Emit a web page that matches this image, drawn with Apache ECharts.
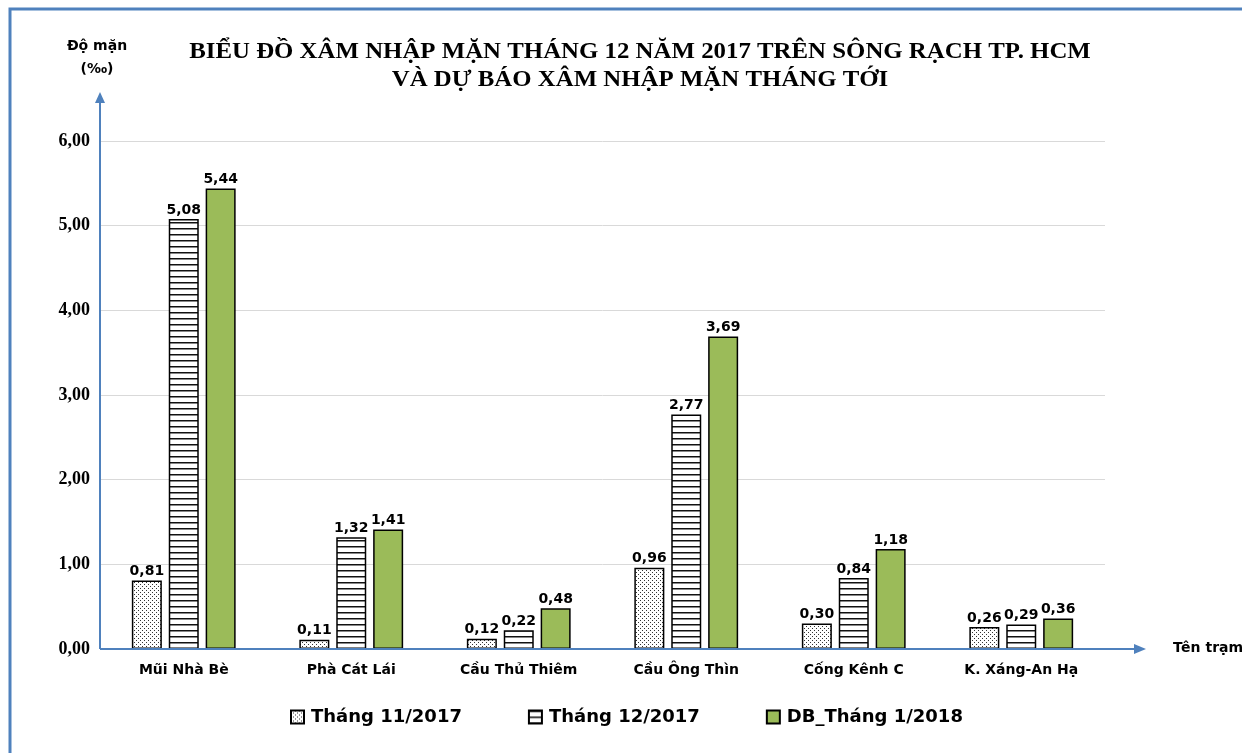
<!DOCTYPE html>
<html>
<head>
<meta charset="utf-8">
<script src="https://cdn.jsdelivr.net/npm/echarts@6/dist/echarts.min.js"></script>
<style>
  html, body { margin: 0; padding: 0; background: #fff; }
  #chart { width: 1242px; height: 753px; }
</style>
</head>
<body>
<div id="chart"></div>
<script>
// tram do man
var stations = ['Mũi Nhà Bè', 'Phà Cát Lái', 'Cầu Thủ Thiêm', 'Cầu Ông Thìn', 'Cống Kênh C', 'K. Xáng-An Hạ']
var thang11 = [0.81, 0.11, 0.12, 0.96, 0.30, 0.26]
var thang12 = [5.08, 1.32, 0.22, 2.77, 0.84, 0.29]
var duBao = [5.44, 1.41, 0.48, 3.69, 1.18, 0.36]
var seriesNames = ['Tháng 11/2017', 'Tháng 12/2017', 'DB_Tháng 1/2018']

// hoa van cham
function dotPattern () {
  var c = document.createElement('canvas')
  c.width = 4
  c.height = 4
  var ctx = c.getContext('2d')
  ctx.fillStyle = '#fff'
  ctx.fillRect(0, 0, 4, 4)
  ctx.fillStyle = '#333'
  ctx.fillRect(0, 0, 1, 1)
  ctx.fillRect(2, 2, 1, 1)
  return c
}
// hoa van soc ngang
function stripePattern () {
  var c = document.createElement('canvas')
  c.width = 6
  c.height = 6
  var ctx = c.getContext('2d')
  ctx.fillStyle = '#fff'
  ctx.fillRect(0, 0, 6, 6)
  ctx.fillStyle = '#111'
  ctx.fillRect(0, 0, 6, 1.5)
  return c
}

var fmt = function (v) { return v.toFixed(2).replace('.', ',') }
var blue = '#4f81bd'
var sans = 'DejaVu Sans'
var gridLeft = 100, gridTop = 141, gridBottom = 104, gridRight = 137
var x0 = gridLeft, y0 = 753 - gridBottom

var labelStyle = {
  show: true,
  position: 'top',
  distance: 2,
  color: '#000',
  fontFamily: sans,
  fontWeight: 'bold',
  fontSize: 14,
  formatter: function (p) { return fmt(p.value) }
}

function makeSeries (name, data, fill) {
  return {
    name: name,
    type: 'bar',
    data: data,
    barWidth: 30,
    barGap: '23%',
    itemStyle: { color: fill, borderColor: '#000', borderWidth: 1.5 },
    label: labelStyle
  }
}

var chart = echarts.init(document.getElementById('chart'))
var option = {
  animation: false,
  legend: {
    top: 703,
    left: 285,
    icon: 'rect',
    itemWidth: 13,
    itemHeight: 13,
    itemGap: 66,
    data: seriesNames,
    textStyle: { fontFamily: sans, fontWeight: 'bold', fontSize: 18, color: '#000', padding: [0, 0, 0, 2] }
  },
  grid: { left: gridLeft, right: gridRight, top: gridTop, bottom: gridBottom },
  xAxis: {
    type: 'category',
    data: stations,
    axisLine: { show: false },
    axisTick: { show: false },
    axisLabel: { color: '#000', fontFamily: sans, fontWeight: 'bold', fontSize: 14, margin: 14 }
  },
  yAxis: {
    type: 'value',
    min: 0,
    max: 6,
    interval: 1,
    axisLine: { show: false },
    axisTick: { show: false },
    splitLine: { lineStyle: { color: '#d9d9d9', width: 1 } },
    axisLabel: {
      color: '#000',
      fontFamily: 'Liberation Serif',
      fontWeight: 'bold',
      fontSize: 18,
      margin: 10,
      formatter: function (v) { return fmt(v) }
    }
  },
  graphic: [
    // khung vien
    { type: 'rect', shape: { x: 10, y: 9, width: 1400, height: 900 }, style: { fill: 'none', stroke: blue, lineWidth: 3 }, silent: true },
    // tieu de
    {
      type: 'text', x: 640, y: 38, scaleX: 1.08,
      style: {
        text: 'BIỂU ĐỒ XÂM NHẬP MẶN THÁNG 12 NĂM 2017 TRÊN SÔNG RẠCH TP. HCM\nVÀ DỰ BÁO XÂM NHẬP MẶN THÁNG TỚI',
        align: 'center',
        font: 'bold 23px Liberation Serif',
        lineHeight: 28,
        fill: '#000'
      }
    },
    // truc y
    { type: 'line', shape: { x1: x0, y1: y0, x2: x0, y2: 100 }, style: { stroke: blue, lineWidth: 2 }, z: 10 },
    { type: 'polygon', shape: { points: [[x0 - 5, 103], [x0 + 5, 103], [x0, 92]] }, style: { fill: blue }, z: 10 },
    // truc x
    { type: 'line', shape: { x1: x0, y1: y0, x2: 1136, y2: y0 }, style: { stroke: blue, lineWidth: 2 }, z: 10 },
    { type: 'polygon', shape: { points: [[1134, y0 - 5], [1134, y0 + 5], [1146, y0]] }, style: { fill: blue }, z: 10 },
    { type: 'text', x: 97, y: 35, style: { text: 'Độ mặn\n(‰)', align: 'center', font: 'bold 14px DejaVu Sans', lineHeight: 23, fill: '#000' } },
    { type: 'text', x: 1173, y: 641, style: { text: 'Tên trạm', font: 'bold 14px DejaVu Sans', fill: '#000' } }
  ],
  series: [
    makeSeries(seriesNames[0], thang11, { image: dotPattern(), repeat: 'repeat' }),
    makeSeries(seriesNames[1], thang12, { image: stripePattern(), repeat: 'repeat' }),
    makeSeries(seriesNames[2], duBao, '#9bbb59')
  ]
}
chart.setOption(option)
</script>
</body>
</html>
